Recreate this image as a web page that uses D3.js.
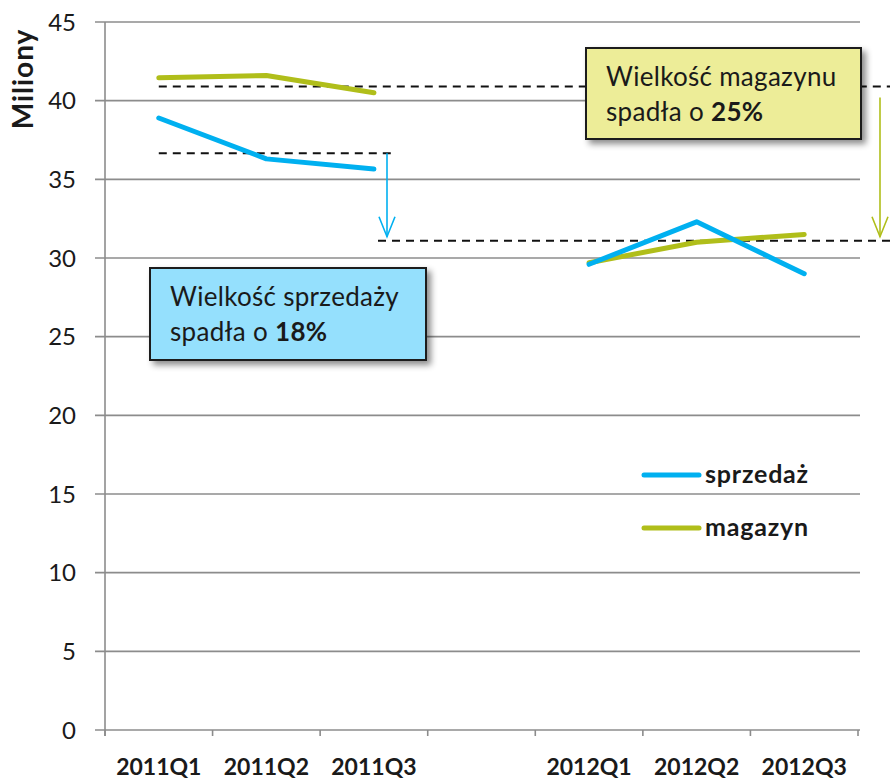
<!DOCTYPE html>
<html><head><meta charset="utf-8">
<script src="https://cdn.jsdelivr.net/npm/d3@7"></script>
<style>body{margin:0;background:#fff}svg{display:block;font-family:Lato,"Open Sans",sans-serif}</style>
</head><body><svg id="c" width="894" height="779"></svg>
<script>
const categories = ["2011Q1","2011Q2","2011Q3","","2012Q1","2012Q2","2012Q3"];
const sprzedaz = [38.9, 36.3, 35.65, null, 29.6, 32.3, 29.0];
const magazyn  = [41.45, 41.6, 40.5, null, 29.7, 31.0, 31.5];
const yTicks = [0,5,10,15,20,25,30,35,40,45];
const seriesNames = ["sprzedaż","magazyn"];
const refLevels = {green: 40.9, blue: 36.65, low: 31.1};

const svg = d3.select("#c");
const x = d3.scaleBand().domain(categories).range([105, 858]);
const y = d3.scaleLinear().domain([0,45]).range([730, 22]);
const blue = "#00b0f0", green = "#b0be1a", grid = "#8c8c8c";

const defs = svg.append("defs");
const f = defs.append("filter").attr("id","sh").attr("x","-10%").attr("y","-10%").attr("width","130%").attr("height","140%");
f.append("feDropShadow").attr("dx",4).attr("dy",4).attr("stdDeviation",3).attr("flood-color","#000").attr("flood-opacity",0.45);

// grid
svg.append("g").selectAll("line").data(yTicks).join("line")
  .attr("x1",95).attr("x2",860).attr("y1",d=>y(d)).attr("y2",d=>y(d))
  .attr("stroke",grid).attr("stroke-width",1.6);
// y axis
svg.append("line").attr("x1",105).attr("x2",105).attr("y1",y(45)).attr("y2",736).attr("stroke",grid).attr("stroke-width",1.6);
// x ticks
const bounds = categories.map(c=>x(c)).concat([x.range()[1]]);
svg.append("g").selectAll("line").data(bounds).join("line")
  .attr("x1",d=>d).attr("x2",d=>d).attr("y1",730).attr("y2",736).attr("stroke",grid).attr("stroke-width",1.6);

svg.append("g").selectAll("text").data(yTicks).join("text")
  .attr("x",76).attr("y",d=>y(d)).attr("dy","0.36em").attr("text-anchor","end")
  .attr("font-size",24).attr("fill","#1a1a1a").text(d=>d);
svg.append("g").selectAll("text").data(categories.filter(c=>c)).join("text")
  .attr("x",d=>x(d)+x.bandwidth()/2).attr("y",775).attr("text-anchor","middle")
  .attr("font-size",23).attr("font-weight","bold").attr("fill","#1a1a1a").text(d=>d);
svg.append("text").attr("transform","translate(33,79) rotate(-90)").attr("text-anchor","middle")
  .attr("font-size",28).attr("font-weight","bold").attr("letter-spacing",1).attr("fill","#1a1a1a").text("Miliony");

const cx = i => x(categories[i]) + x.bandwidth()/2;
// dashed reference lines
const dash = (x1,x2,v)=>svg.append("line").attr("x1",x1).attr("x2",x2).attr("y1",y(v)).attr("y2",y(v))
  .attr("stroke","#111").attr("stroke-width",2).attr("stroke-dasharray","8,6");
dash(cx(0), 890, refLevels.green);
dash(cx(0), 392, refLevels.blue);
dash(378, 890, refLevels.low);

// lines
const line = d3.line().defined(d=>d!=null).x((d,i)=>cx(i)).y(d=>y(d));
[[magazyn,green],[sprzedaz,blue]].forEach(([s,c])=>{
  svg.append("path").datum(s).attr("d",line).attr("fill","none").attr("stroke",c)
    .attr("stroke-width",5).attr("stroke-linecap","round").attr("stroke-linejoin","round");
});
// arrows
function arrow(xx, v1, v2, c){
  const y1=y(v1), y2=y(v2)-4;
  svg.append("line").attr("x1",xx).attr("x2",xx).attr("y1",y1).attr("y2",y2).attr("stroke",c).attr("stroke-width",1.6);
  svg.append("path").attr("d",`M${xx-8},${y2-20}L${xx},${y2}L${xx+8},${y2-20}`).attr("fill","none").attr("stroke",c).attr("stroke-width",1.6);
}
arrow(387, refLevels.blue, refLevels.low, blue);
arrow(880, 40.2, refLevels.low, green);

// annotation boxes
function box(x0,y0,w,h,fill,l1,l2a,l2b){
  svg.append("rect").attr("x",x0).attr("y",y0).attr("width",w).attr("height",h)
    .attr("fill",fill).attr("stroke","#1a1a1a").attr("stroke-width",2).attr("filter","url(#sh)");
  svg.append("text").attr("x",x0+20).attr("y",y0+38).attr("font-size",26).attr("letter-spacing",0.3).attr("fill","#1a1a1a").text(l1);
  const t = svg.append("text").attr("x",x0+20).attr("y",y0+73).attr("font-size",26).attr("letter-spacing",0.3).attr("fill","#1a1a1a");
  t.append("tspan").text(l2a);
  t.append("tspan").attr("font-weight","bold").text(l2b);
}
box(586,48,275,91,"#eded98","Wielkość magazynu","spadła o ","25%");
box(150,268,276,92,"#95e0fd","Wielkość sprzedaży","spadła o ","18%");

// legend
[[blue,475],[green,528]].forEach(([c,yy],i)=>{
  svg.append("line").attr("x1",644).attr("x2",699).attr("y1",yy).attr("y2",yy).attr("stroke",c)
    .attr("stroke-width",5).attr("stroke-linecap","round");
  svg.append("text").attr("x",705).attr("y",yy+8).attr("font-size",25).attr("font-weight","bold")
    .attr("letter-spacing",0.8).attr("fill","#1a1a1a").text(seriesNames[i]);
});
</script></body></html>
